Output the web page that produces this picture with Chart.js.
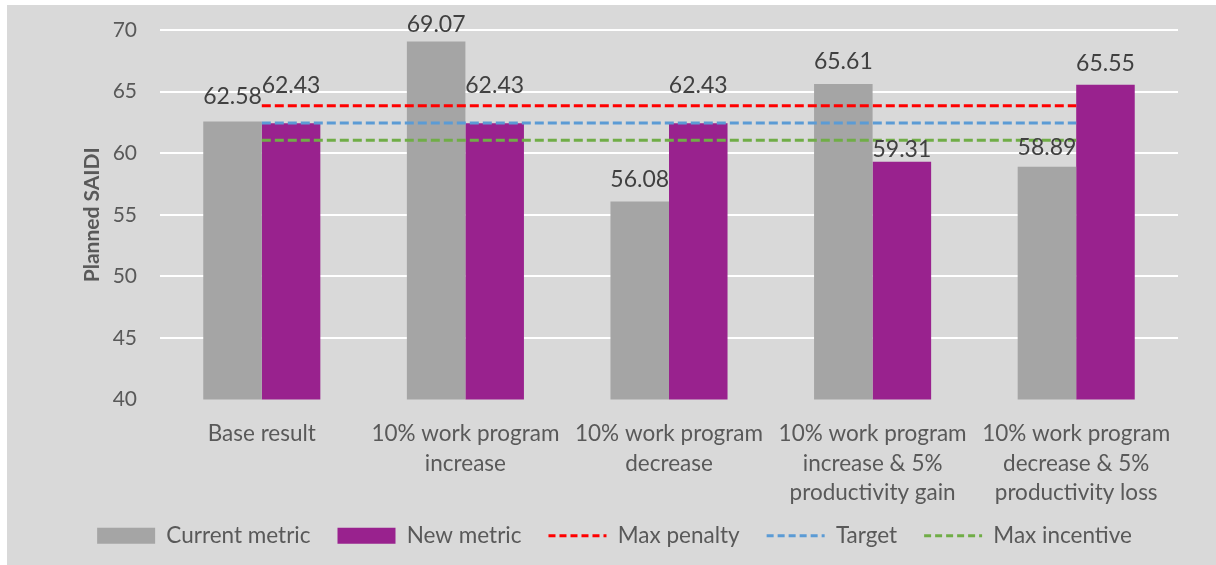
<!DOCTYPE html>
<html>
<head>
<meta charset="utf-8">
<script src="https://cdn.jsdelivr.net/npm/chart.js@4"></script>
<style>
  html, body { margin: 0; padding: 0; background: #ffffff; }
  #wrap { position: absolute; left: 7px; top: 5px; width: 1209px; height: 560px; background: #d9d9d9; }
</style>
</head>
<body>
<div id="wrap"><canvas id="saidi" width="1209" height="560"></canvas></div>
<script>
const categories = [
    'Base result',
    ['10% work program', 'increase'],
    ['10% work program', 'decrease'],
    ['10% work program', 'increase & 5%', 'productivity gain'],
    ['10% work program', 'decrease & 5%', 'productivity loss']
];
const currentMetric = [62.58, 69.07, 56.08, 65.61, 58.89];
const newMetric = [62.43, 62.43, 62.43, 59.31, 65.55];
const maxPenalty = [63.85, 63.85, 63.85, 63.85, 63.85];
const target = [62.45, 62.45, 62.45, 62.45, 62.45];
const maxIncentive = [61.05, 61.05, 61.05, 61.05, 61.05];

const FONT = 'Lato, "Open Sans", sans-serif';

// value labels above the bars (small nudges where the original moved them)
const labelNudge = {
    0: [-3, 5, 0, 0, 3],
    1: [-16, -16, -16, 10, 1]
};

const barLabels = {
    id: 'barLabels',
    afterDatasetsDraw(chart) {
        const ctx = chart.ctx;
        ctx.save();
        ctx.font = '23px ' + FONT;
        ctx.fillStyle = '#404040';
        ctx.textAlign = 'center';
        ctx.textBaseline = 'middle';
        [0, 1].forEach(i => {
            const meta = chart.getDatasetMeta(i);
            meta.data.forEach((bar, j) => {
                const v = chart.data.datasets[i].data[j];
                ctx.fillText(v.toFixed(2), bar.x, bar.y - 22 + labelNudge[i][j]);
            });
        });
        ctx.restore();
    }
};

// nudge the legend row to where the original has it
const legendShift = {
    id: 'legendShift',
    afterLayout(chart) {
        const lg = chart.legend;
        lg.top -= 8; lg.bottom -= 8;
        lg.left += 22; lg.right += 22;
    }
};

const lineStyle = (label, data, color) => ({
    type: 'line',
    label,
    data,
    borderColor: color,
    backgroundColor: color,
    borderWidth: 3,
    borderDash: [9, 4],
    pointRadius: 0,
    fill: false,
    order: 1
});

new Chart(document.getElementById('saidi'), {
    type: 'bar',
    data: {
        labels: categories,
        datasets: [
            { label: 'Current metric', data: currentMetric, backgroundColor: '#a5a5a5', order: 2,
              barPercentage: 1, categoryPercentage: 0.575 },
            { label: 'New metric', data: newMetric, backgroundColor: '#99228e', order: 2,
              barPercentage: 1, categoryPercentage: 0.575 },
            lineStyle('Max penalty', maxPenalty, '#ff0000'),
            lineStyle('Target', target, '#5b9bd5'),
            lineStyle('Max incentive', maxIncentive, '#70ad47')
        ]
    },
    options: {
        responsive: false,
        animation: false,
        layout: { padding: { top: 25, right: 38, left: 0, bottom: 0 } },
        plugins: {
            tooltip: { enabled: false },
            legend: {
                position: 'bottom',
                labels: {
                    font: { family: FONT, size: 22.5 },
                    color: '#595959',
                    usePointStyle: true,
                    pointStyleWidth: 58,
                    boxHeight: 16,
                    padding: 27,
                    generateLabels(chart) {
                        return chart.data.datasets.map((ds, i) => {
                            const isLine = ds.type === 'line';
                            return {
                                text: ds.label,
                                fillStyle: ds.backgroundColor,
                                strokeStyle: isLine ? ds.borderColor : ds.backgroundColor,
                                lineWidth: isLine ? 3 : 0,
                                lineDash: isLine ? [7, 4] : [],
                                pointStyle: isLine ? 'line' : 'rect',
                                fontColor: '#595959',
                                hidden: false,
                                datasetIndex: i
                            };
                        });
                    }
                }
            }
        },
        scales: {
            x: {
                grid: { display: false },
                border: { display: false },
                ticks: {
                    color: '#595959',
                    font: { family: FONT, size: 22.5, lineHeight: 1.31 },
                    padding: 12,
                    maxRotation: 0,
                    autoSkip: false
                },
                afterFit(scale) { scale.height = 106; }
            },
            y: {
                min: 40,
                max: 70,
                border: { display: false },
                grid: {
                    color: c => c.tick.value === 40 ? 'rgba(0,0,0,0)' : '#ffffff',
                    lineWidth: 2,
                    drawTicks: false
                },
                ticks: {
                    stepSize: 5,
                    color: '#595959',
                    font: { family: FONT, size: 21 },
                    padding: 23
                },
                title: {
                    display: true,
                    text: 'Planned SAIDI',
                    color: '#595959',
                    font: { family: FONT, size: 21, weight: 'bold' },
                    padding: { top: 73, bottom: 0 }
                },
                afterFit(scale) {
                    scale.width = 153;
                    scale.paddingTop = 0;
                    scale.paddingBottom = 0;
                }
            }
        }
    },
    plugins: [barLabels, legendShift]
});
</script>
</body>
</html>
